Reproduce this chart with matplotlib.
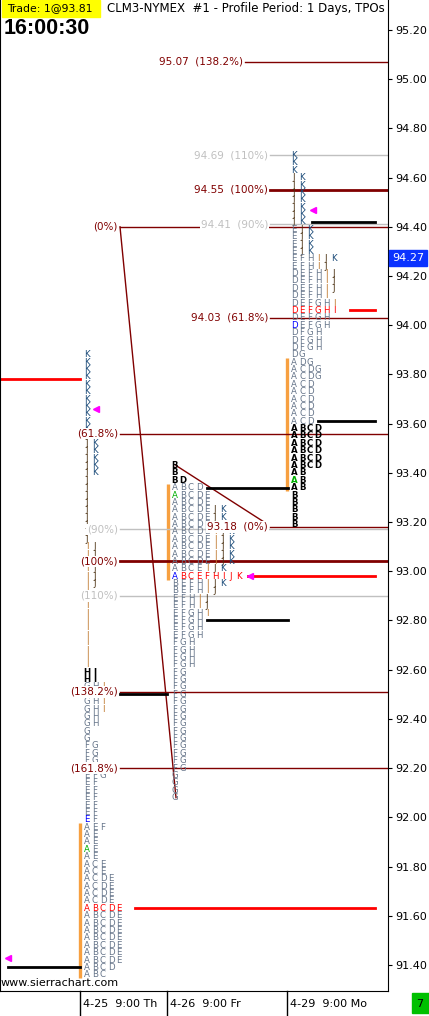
import numpy as np
import matplotlib.pyplot as plt
from matplotlib.patches import Rectangle

W, H = 429, 1016

# price scale (right axis)
price_ticks = [95.20, 95.00, 94.80, 94.60, 94.40, 94.20, 94.00, 93.80, 93.60,
               93.40, 93.20, 93.00, 92.80, 92.60, 92.40, 92.20, 92.00, 91.80,
               91.60, 91.40]
p_top, p_bot = 95.322, 91.294
last_price = 94.27

# TPO profiles, top row first, one row per 0.03
row_tick = 0.03
day1_top = 93.88
day1_rows = (['K'] * 11 + ['JK'] * 6 + ['J'] * 9 + ['IJ'] * 6 + ['I'] * 11 +
             ['HI'] * 2 + ['GHI'] * 4 + ['GH'] * 2 + ['G'] * 2 + ['FG'] * 3 +
             ['EFG'] * 2 + ['EF'] * 6 + ['AEF'] + ['AE'] * 4 + ['ACE'] * 2 +
             ['ACDE'] * 4 + ['ABCDE'] * 8 + ['ABCD', 'ABC'])
day2_top = 93.43
day2_rows = (['B', 'B', 'BD', 'ABCD'] + ['ABCDE'] * 2 + ['ABCDEJK'] * 2 +
             ['ABCDE'] + ['ABCDEIJK'] * 5 +
             ['ABCEIJK', 'ABCEFHIJK', 'BEFHIJK', 'BEFHIJ'] + ['EFHIJ'] * 2 +
             ['EFGHI'] + ['EFGH'] * 3 + ['FGH'] * 4 + ['FG'] * 14 + ['G'] * 4)
day3_top = 94.69
day3_rows = (['K'] * 3 + ['JK'] * 7 + ['EJK'] * 4 + ['EFHIJK', 'EFHIJ'] +
             ['DEFHIJ'] * 3 + ['DEFHI'] + ['DEFGHI'] * 2 + ['DEFGH'] * 2 +
             ['DFGH'] * 3 + ['DG', 'ADG'] + ['ACDG'] * 2 + ['ACD'] * 6 +
             ['ABCD'] * 6 + ['AB'] * 3 + ['B'] * 5)
poc_rows = [75, 15, 21]
green_rows = [67, 4, 44]       # open marker (col 0)
blue_rows = [63, 15, 23]       # close marker (col 0)
bold_rows = [[43, 44], [0, 1, 2], list(range(37, 51))]

# fib levels
fib3_prices = [95.07, 94.69, 94.55, 94.41, 94.03, 93.18]
fib3_pcts = ['138.2%', '110%', '100%', '90%', '61.8%', '0%']
fib1_prices = [94.40, 93.56, 93.17, 93.04, 92.90, 92.51, 92.20]
fib1_pcts = ['0%', '61.8%', '90%', '100%', '110%', '138.2%', '161.8%']

# extension lines
black_prices = [91.39, 92.50, 93.34, 92.80, 93.61, 94.42]
red_prices = [93.78, 92.98, 91.63, 94.06]
arrow_prices = [91.43, 93.66, 92.98, 94.47]

dates = ['4-25  9:00 Th', '4-26  9:00 Fr', '4-29  9:00 Mo']

# ---- layout ----
day_x0 = [87, 175, 294]
col_w = 8
date_x = [80, 167, 287]
black_x = [(8, 80), (120, 167), (207, 288), (207, 288), (318, 375), (312, 375)]
red_x = [(0, 80), (248, 375), (135, 375), (350, 375)]
arrow_x = [8, 96, 250, 313]

DKRED = '#800000'
GRAY = '#c0c0c0'
letter_col = {'I': '#c07a30', 'J': '#4a3010', 'K': '#1a4a78'}
base_col = '#66758a'
lab_box = dict(fc='white', ec='none', pad=0.6)

fig = plt.figure(figsize=(W / 100, H / 100), dpi=100)
ax = fig.add_axes([0, 1 - 991 / H, 388 / W, 991 / H])
ax.set_xlim(0, 388)
ax.set_ylim(p_bot, p_top)
ax.spines['top'].set_visible(False)
ax.yaxis.tick_right()
ax.set_yticks(price_ticks)
ax.set_yticklabels(['%.2f' % p for p in price_ticks])
ax.tick_params(axis='y', length=3, pad=2, labelsize=8)
ax.set_xticks([])

# profiles
for d, (x0, top, rows) in enumerate(zip(day_x0, [day1_top, day2_top, day3_top],
                                        [day1_rows, day2_rows, day3_rows])):
    a_rows = [i for i, r in enumerate(rows) if 'A' in r]
    ax.plot([x0 - 7, x0 - 7],
            [top - row_tick * (a_rows[0] - 0.5), top - row_tick * (a_rows[-1] + 0.5)],
            color='#f7a040', lw=2.4, solid_capstyle='butt')
    for i, r in enumerate(rows):
        p = top - row_tick * i
        for j, ch in enumerate(r):
            c = letter_col.get(ch, base_col)
            wt = 'normal'
            if i in bold_rows[d]:
                c, wt = '#000000', 'bold'
            if i == poc_rows[d]:
                c = '#ff0000'
            if j == 0 and i == green_rows[d]:
                c = '#00b000'
            if j == 0 and i == blue_rows[d]:
                c = '#0000ff'
            ax.text(x0 + col_w * j, p, ch, fontsize=6.2, ha='center', va='center',
                    color=c, fontweight=wt)

# fib lines, right group
for p, pct in zip(fib3_prices, fib3_pcts):
    col = GRAY if pct in ('90%', '110%') else DKRED
    lw = 2 if pct == '100%' else 1
    xl = 243 if pct == '138.2%' else 268
    ax.plot([xl + 2, 388], [p, p], color=col, lw=lw)
    ax.text(xl, p, '%.2f  (%s)' % (p, pct), color=col, fontsize=7.5,
            ha='right', va='center', bbox=lab_box, zorder=4)

# fib lines, left group
for p, pct in zip(fib1_prices, fib1_pcts):
    col = GRAY if pct in ('90%', '110%') else DKRED
    lw = 2 if pct == '100%' else 1
    ax.plot([120, 388], [p, p], color=col, lw=lw)
    ax.text(118, p, '(%s)' % pct, color=col, fontsize=7.5, ha='right', va='center',
            bbox=lab_box, zorder=4)

# fib anchor lines
ax.plot([120, 176], [fib1_prices[0], day2_top - row_tick * (len(day2_rows) - 1)],
        color=DKRED, lw=1)
ax.plot([176, 268], [day2_top, 93.19], color=DKRED, lw=1)

for (x1, x2), p in zip(black_x, black_prices):
    ax.plot([x1, x2], [p, p], color='black', lw=2)
for (x1, x2), p in zip(red_x, red_prices):
    ax.plot([x1, x2], [p, p], color='#ff0000', lw=2)
for x, p in zip(arrow_x, arrow_prices):
    ax.plot(x, p, marker='<', color='#ff00ff', ms=4.5, mec='#ff00ff')

def fx(x):
    return x / W

def fy(y):
    return 1 - y / H

# header
fig.patches.append(Rectangle((fx(2), fy(17)), 98 / W, 17 / H, color='#ffff00',
                             transform=fig.transFigure))
fig.text(fx(7), fy(8.5), 'Trade: 1@93.81', fontsize=7.8, va='center')
fig.text(fx(107), fy(8.5), 'CLM3-NYMEX  #1 - Profile Period: 1 Days, TPOs',
         fontsize=8.5, va='center')
fig.text(fx(4), fy(29), '16:00:30', fontsize=15.5, fontweight='bold',
         family='Liberation Sans', va='center')

# last price box
fig.patches.append(Rectangle((fx(389), fy(266)), 38 / W, 16 / H, color='#0a32ff',
                             transform=fig.transFigure))
fig.text(fx(392), fy(258), '%.2f' % last_price, color='white', fontsize=8,
         va='center')

fig.text(fx(1), fy(983), 'www.sierrachart.com', fontsize=8, va='center')

# date axis
for x, lab in zip(date_x, dates):
    fig.add_artist(plt.Line2D([fx(x), fx(x)], [fy(991), 0], color='black', lw=1,
                              transform=fig.transFigure))
    fig.text(fx(x + 3), fy(1004), lab, fontsize=8, va='center')

fig.patches.append(Rectangle((fx(412), fy(1013)), 17 / W, 20 / H, color='#00c000',
                             transform=fig.transFigure))
fig.text(fx(416), fy(1004), '7', fontsize=8, va='center')

fig.savefig('out.png', dpi=100)
